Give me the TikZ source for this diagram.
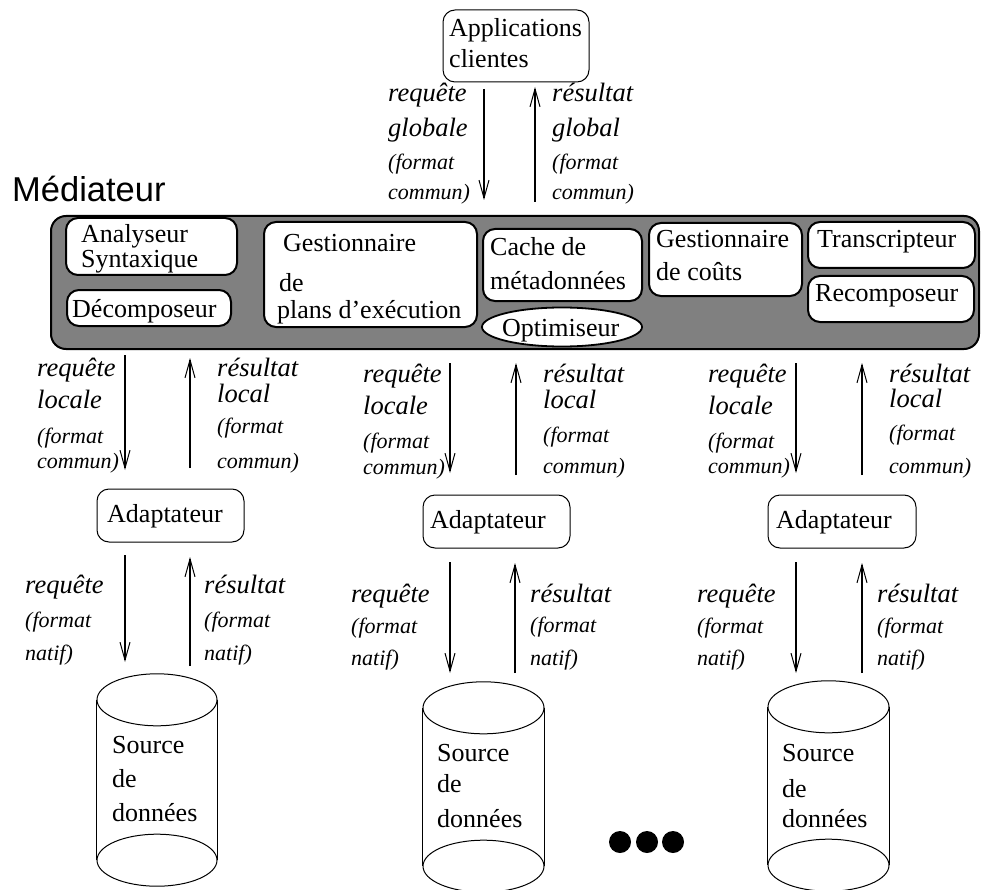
\documentclass[tikz,border=0pt]{standalone}
\usepackage{fontspec}
\setmainfont{Liberation Serif}
\newfontfamily\arialfam{Liberation Sans}
\usetikzlibrary{arrows.meta,shapes.geometric}
\definecolor{medgray}{RGB}{128,128,128}
\newcommand\bxfont{\fontsize{26}{30}\selectfont}
\newcommand\lbfont{\fontsize{26.5}{30}\selectfont\itshape}
\newcommand\sbfont{\fontsize{22}{26}\selectfont\itshape}

\begin{document}
\begin{tikzpicture}[x=1pt,y=-1pt,
  txt/.style={anchor=base west, inner sep=0pt, font=\bxfont},
  lab/.style={anchor=base west, inner sep=0pt, font=\lbfont},
  sub/.style={anchor=base west, inner sep=0pt, font=\sbfont},
  module/.style={draw, line width=2pt, fill=white, rounded corners=12pt, inner sep=0pt},
  thinbox/.style={draw, line width=1pt, fill=white, rounded corners=12pt, inner sep=0pt},
  flow/.style={line width=2pt, -{Straight Barb[length=18pt,width=10pt,line width=1pt]}},
  drum/.style={line width=1pt},
]
\fill[white] (0,0) rectangle (981,890);
\useasboundingbox (0,0) rectangle (981,890);

% client applications
\node[thinbox, minimum width=146pt, minimum height=72pt] (app) at (516,46) {};
\node[txt] (appT1) at (449,37) {Applications};
\node[txt] (appT2) at (449,68) {clientes};

% mediator frame
\node[anchor=base west, inner sep=0pt, font=\arialfam\fontsize{34.5}{38}\selectfont] (medT) at (12,202) {Médiateur};
\node[draw, line width=2pt, fill=medgray, rounded corners=15pt, minimum width=928pt, minimum height=133pt, inner sep=0pt] (med) at (515,282.5) {};

% mediator modules
\node[module, minimum width=171pt, minimum height=57pt] (an) at (151.5,246.5) {};
\node[txt] (anT1) at (81,243) {Analyseur};
\node[txt] (anT2) at (81,268) {Syntaxique};

\node[module, minimum width=164pt, minimum height=36pt] (dec) at (149,308) {};
\node[txt] (decT) at (72,317) {Décomposeur};

\node[module, minimum width=213pt, minimum height=105pt] (plans) at (370.5,274.5) {};
\node[txt] (plansT1) at (283,252) {Gestionnaire};
\node[txt] (plansT2) at (279,291) {de};
\node[txt] (plansT3) at (277,318) {plans d’exécution};

\node[module, minimum width=159pt, minimum height=72pt] (cache) at (562.5,265) {};
\node[txt] (cacheT1) at (490,256) {Cache de};
\node[txt] (cacheT2) at (490,289) {métadonnées};

\node[draw, line width=1.8pt, fill=white, ellipse, minimum width=160pt, minimum height=39pt, inner sep=0pt] (opt) at (562,327) {};
\node[txt] (optT) at (502,336) {Optimiseur};

\node[module, minimum width=153pt, minimum height=73pt] (cost) at (725.5,259.5) {};
\node[txt] (costT1) at (656,248) {Gestionnaire};
\node[txt] (costT2) at (656,280) {de coûts};

\node[module, minimum width=167pt, minimum height=46pt] (trans) at (891.5,245) {};
\node[txt] (transT) at (817,248) {Transcripteur};

\node[module, minimum width=166pt, minimum height=46pt] (recomp) at (891,299) {};
\node[txt] (recompT) at (815,301) {Recomposeur};

% adapters
\node[thinbox, minimum width=147pt, minimum height=53pt] (ad1) at (170.5,515.5) {};
\node[txt] (ad1T) at (107,522) {Adaptateur};
\node[thinbox, minimum width=147pt, minimum height=53pt] (ad2) at (496.5,521.5) {};
\node[txt] (ad2T) at (430,528) {Adaptateur};
\node[thinbox, minimum width=148pt, minimum height=53pt] (ad3) at (842,521.5) {};
\node[txt] (ad3T) at (776,528) {Adaptateur};

% data sources (cylinders)
\foreach \n/\cx/\cy/\w/\h in {1/157/780/120/160, 2/483.5/787/121/158, 3/828.5/786/121/158}{
  \node[minimum width=\w pt, minimum height=\h pt, inner sep=0pt] (cyl\n) at (\cx,\cy) {};
  \draw[drum] (cyl\n.north west) -- (cyl\n.south west);
  \draw[drum] (cyl\n.north east) -- (cyl\n.south east);
  \draw[drum] (cyl\n.north) ellipse [x radius=\w pt/2, y radius=26pt];
  \draw[drum] (cyl\n.south) ellipse [x radius=\w pt/2, y radius=26pt];
}
\foreach \n/\x/\ya/\yb/\yc in {1/112/753/787/821, 2/437/761/792/827, 3/782/761/797/827}{
  \node[txt] (src\n a) at (\x,\ya) {Source};
  \node[txt] (src\n b) at (\x,\yb) {de};
  \node[txt] (src\n c) at (\x,\yc) {données};
}

% ellipsis dots
\foreach \n/\x in {1/620, 2/647, 3/673}{
  \node[circle, fill=black, minimum size=22pt, inner sep=0pt] (dot\n) at (\x,842) {};
}

% request / result arrows
\foreach \n/\x/\ya/\yb in {
  t1/484/89/200, t2/535/202/87,
  l1/125/355/470, l2/190/468/358, l3/125/555/662, l4/190/666/557,
  m1/450/363/473, m2/516/475/363, m3/450/562/673, m4/515/673/563,
  r1/796/363/473, r2/862/475/363, r3/796/562/673, r4/862/673/563}{
  \coordinate (s\n) at (\x,\ya);
  \coordinate (e\n) at (\x,\yb);
  \draw[flow] (s\n) -- (e\n);
}

% arrow labels, main words
\foreach \n/\x/\y/\t in {
  a1/388/102/requête, a2/388/137/globale, a3/552/102/résultat, a4/552/137/global,
  b1/37/376/requête, b2/37/408/locale, b3/217/376/résultat, b4/217/402/local,
  b5/25/593/requête, b6/204/593/résultat,
  c1/363/382/requête, c2/363/414/locale, c3/543/382/résultat, c4/543/408/local,
  c5/351/602/requête, c6/530/602/résultat,
  d1/708/382/requête, d2/708/414/locale, d3/889/382/résultat, d4/889/407/local,
  d5/697/602/requête, d6/877/602/résultat}{
  \node[lab] (w\n) at (\x,\y) {\t};
}

% arrow labels, format notes
\foreach \n/\x/\y/\t in {
  a1/388/170/(format, a2/388/200/commun), a3/552/170/(format, a4/552/200/commun),
  b1/37/443/(format, b2/37/468/commun), b3/217/433/(format, b4/217/468/commun),
  b5/25/627/(format, b6/25/660/natif), b7/204/627/(format, b8/204/660/natif),
  c1/363/448/(format, c2/363/474/commun), c3/543/442/(format, c4/543/473/commun),
  c5/351/633/(format, c6/351/665/natif), c7/530/632/(format, c8/530/665/natif),
  d1/708/448/(format, d2/708/473/commun), d3/889/440/(format, d4/889/473/commun),
  d5/697/633/(format, d6/697/665/natif), d7/877/633/(format, d8/877/665/natif)}{
  \node[sub] (f\n) at (\x,\y) {\t};
}
\end{tikzpicture}
\end{document}
